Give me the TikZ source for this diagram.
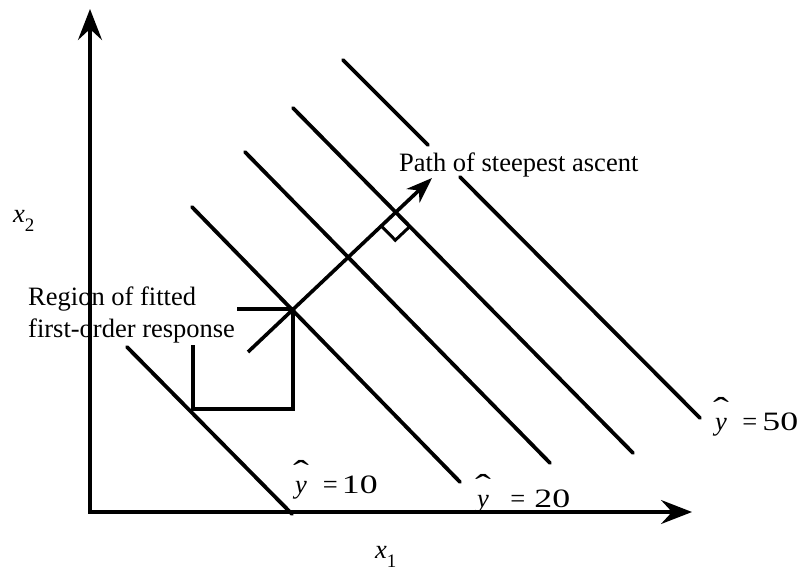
\documentclass[tikz,border=0pt]{standalone}
\usepackage{graphicx}
\usepackage{fontspec}
\setmainfont{Liberation Serif}
\usetikzlibrary{arrows.meta,calc}
\newcommand{\yh}{\ooalign{\textit{y}\cr\hidewidth\raisebox{9.5pt}{\scalebox{1.8}[1.25]{\symbol{"02C6}}}\hidewidth\cr}}
\newcommand{\yval}[3]{\yh\hspace{#1}=\hspace{#2}\scalebox{1.35}[1]{#3}}
\newcommand{\xsub}[1]{\textit{x}\raisebox{-9pt}{\fontsize{19}{19}\selectfont #1}}
\begin{document}
\begin{tikzpicture}[x=1pt,y=-1pt,
  axisline/.style={line width=3.4pt,{Stealth[length=31pt,width=24pt,inset=11pt]}-{Stealth[length=31pt,width=24pt,inset=11pt]}},
  contour/.style={line width=3.8pt,line cap=round},
  regionbox/.style={line width=3.3pt},
  ascent/.style={line width=3.6pt,-{Stealth[length=26pt,width=19pt,inset=8pt]}},
  rightmark/.style={line width=3pt},
  lbl/.style={anchor=base west,inner sep=0pt,font=\fontsize{26.5}{32}\selectfont},
]
\useasboundingbox (0,0) rectangle (807,571);
% axes
\coordinate (O) at (90,512);
\coordinate (Ytop) at (90,9);
\coordinate (Xend) at (692,512);
\draw[axisline] (Ytop) -- (O) -- (Xend);
% contour lines
\coordinate (c1a) at (127,347);   \coordinate (c1b) at (292,514);
\coordinate (c2a) at (192,207);   \coordinate (c2b) at (460,482);
\coordinate (c3a) at (245,152);   \coordinate (c3b) at (550,463);
\coordinate (c4a) at (293,108);   \coordinate (c4b) at (633,453);
\coordinate (c5a) at (343,60);    \coordinate (c5m) at (428,145);
\coordinate (c5n) at (460,177);   \coordinate (c5b) at (700,418);
\draw[contour] (c1a) -- (c1b);
\draw[contour] (c2a) -- (c2b);
\draw[contour] (c3a) -- (c3b);
\draw[contour] (c4a) -- (c4b);
\draw[contour] (c5a) -- (c5m);
\draw[contour] (c5n) -- (c5b);
% region of fitted first-order response
\coordinate (b1) at (237,309);
\coordinate (b2) at (293,309);
\coordinate (b3) at (293,409);
\coordinate (b4) at (193,409);
\coordinate (b5) at (193,345);
\draw[regionbox] (b1) -- (b2) -- (b3) -- (b4) -- (b5);
% path of steepest ascent
\coordinate (a0) at (248,352);
\coordinate (a1) at (432,178);
\draw[ascent] (a0) -- (a1);
% right-angle mark
\coordinate (m1) at (381.3,226.0);
\coordinate (m2) at (395.3,240.2);
\coordinate (m3) at (409.8,226.5);
\draw[rightmark] (m1) -- (m2) -- (m3);
% labels
\node[lbl] (reg1) at (28,305) {Region of fitted};
\node[lbl] (reg2) at (28,337) {first-order response};
\node[lbl] (pathlbl) at (399,171) {Path of steepest ascent};
\node[lbl] (x2) at (13,222) {\xsub{2}};
\node[lbl] (x1) at (375,558) {\xsub{1}};
\node[lbl] (y10) at (295,493) {\yval{16pt}{4pt}{10}};
\node[lbl] (y20) at (477,507) {\yval{21.5pt}{9pt}{20}};
\node[lbl] (y50) at (715,430) {\yval{15.5pt}{5pt}{50}};
\end{tikzpicture}
\end{document}
